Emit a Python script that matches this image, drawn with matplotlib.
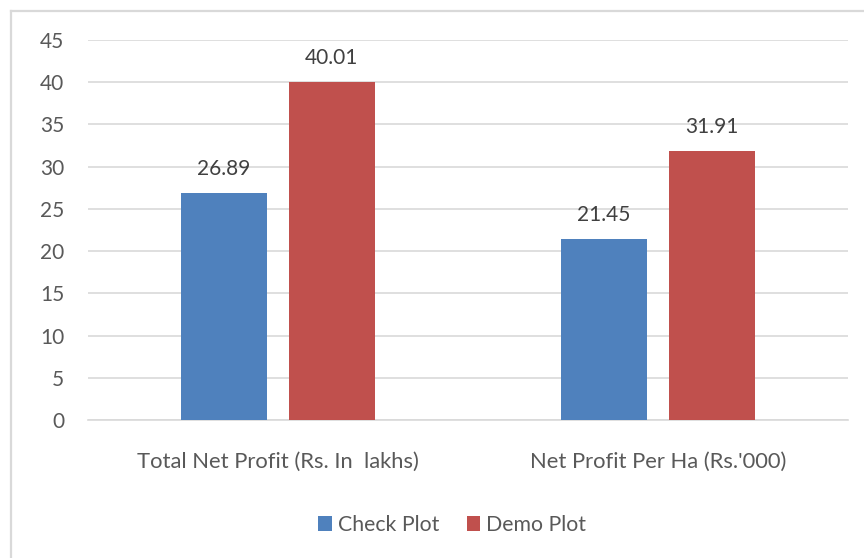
import matplotlib
matplotlib.use("Agg")
import matplotlib.pyplot as plt
from matplotlib.lines import Line2D
import numpy as np

categories = ["Total Net Profit (Rs. In  lakhs)", "Net Profit Per Ha (Rs.'000)"]
series_names = ["Check Plot", "Demo Plot"]
check_plot = [26.89, 21.45]
demo_plot = [40.01, 31.91]
yticks = [0, 5, 10, 15, 20, 25, 30, 35, 40, 45]

colors = ["#4F81BD", "#C0504D"]
text_color = "#595959"
label_color = "#404040"
plt.rcParams['font.family'] = ['Lato', 'DejaVu Sans']

W, H = 864, 558
fig = plt.figure(figsize=(W/100, H/100), dpi=100)
# outer chart border (only top and left visible in reference)
fig.lines.append(Line2D([11/W, 1.0], [1-10.5/H, 1-10.5/H], transform=fig.transFigure,
                        color="#D9D9D9", linewidth=1.6))
fig.lines.append(Line2D([11/W, 11/W], [0, 1-10.5/H], transform=fig.transFigure,
                        color="#D9D9D9", linewidth=1.6))

ax = fig.add_axes([88/W, 1-420/H, (848-88)/W, 380/H])
x = np.arange(len(categories))
bw = 0.224
off = 0.142
b1 = ax.bar(x - off, check_plot, bw, color=colors[0], label=series_names[0], zorder=3)
b2 = ax.bar(x + off, demo_plot, bw, color=colors[1], label=series_names[1], zorder=3)
for bars in (b1, b2):
    ax.bar_label(bars, labels=[f"{v:.2f}" for v in bars.datavalues], padding=10,
                 fontsize=15, color=label_color)

ax.set_xlim(-0.5, 1.5)
ax.set_ylim(0, 45)
ax.set_yticks(yticks)
ax.set_yticklabels([str(t) for t in yticks], fontsize=15, color=text_color)
ax.set_xticks(x)
ax.set_xticklabels(categories, fontsize=15.8, color=text_color)
ax.tick_params(axis='y', length=0, pad=17)
ax.tick_params(axis='x', length=0, pad=23)
ax.grid(axis='y', color="#D9D9D9", linewidth=1.2, zorder=0)
for s in ['top', 'right', 'left']:
    ax.spines[s].set_visible(False)
ax.spines['bottom'].set_color("#D9D9D9")
ax.spines['bottom'].set_linewidth(1.2)
ax.set_facecolor('none')

leg = fig.legend(handles=[b1, b2], labels=series_names, loc='center', bbox_to_anchor=(452/W, 1-525/H),
                 ncol=2, frameon=False, fontsize=15.3, handlelength=0.65, handleheight=0.65,
                 handletextpad=0.25, columnspacing=1.3)
for t in leg.get_texts():
    t.set_color(text_color)

fig.savefig("out.png", dpi=100)
